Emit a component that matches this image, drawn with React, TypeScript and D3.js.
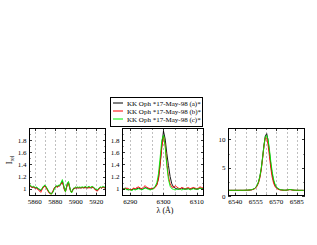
import { useEffect } from "react";
import * as d3 from "d3";

// Na D region
const NAD_WAVE = [
  5855, 5856, 5857, 5858, 5859, 5860, 5861, 5862, 5863, 5864, 5865, 5866, 5867, 5868, 5869,
  5870, 5871, 5872, 5873, 5874, 5875, 5876, 5877, 5878, 5879, 5880, 5881, 5882, 5883, 5884,
  5885, 5886, 5887, 5888, 5889, 5890, 5891, 5892, 5893, 5894, 5895, 5896, 5897, 5898, 5899,
  5900, 5901, 5902, 5903, 5904, 5905, 5906, 5907, 5908, 5909, 5910, 5911, 5912, 5913, 5914,
  5915, 5916, 5917, 5918, 5919, 5920, 5921, 5922, 5923, 5924, 5925, 5926, 5927, 5928, 5929,
];
const NAD_A = [
  1.06, 1.04, 1.03, 1.02, 1.03, 1.02, 1.01, 1.02, 1.0, 0.99, 0.98, 0.97, 0.99, 1.02, 1.04,
  1.05, 1.03, 1.0, 0.97, 0.94, 0.93, 0.92, 0.93, 0.96, 1.0, 1.03, 1.04, 1.03, 1.05, 1.04,
  1.06, 1.09, 1.12, 1.06, 0.99, 0.96, 1.02, 1.09, 1.1, 1.03, 0.97, 0.95, 0.98, 1.01, 1.0,
  1.02, 1.01, 1.02, 1.01, 1.02, 1.01, 1.02, 1.02, 1.01, 1.03, 1.02, 1.01, 1.02, 1.03, 1.02,
  1.01, 1.02, 1.03, 1.01, 0.99, 0.98, 0.97, 0.99, 1.01, 1.02, 1.01, 1.02, 1.03, 1.02, 1.02,
];
const NAD_B = [
  1.05, 1.04, 1.02, 1.03, 1.02, 1.01, 1.02, 1.0, 0.99, 0.97, 0.96, 0.94, 0.98, 1.01, 1.03,
  1.04, 1.02, 0.99, 0.96, 0.93, 0.92, 0.91, 0.93, 0.97, 1.01, 1.02, 1.04, 1.02, 1.04, 1.05,
  1.07, 1.08, 1.1, 1.05, 0.98, 0.95, 1.01, 1.07, 1.09, 1.02, 0.96, 0.94, 0.97, 1.0, 1.01,
  1.01, 1.02, 1.01, 1.02, 1.01, 1.02, 1.01, 1.02, 1.02, 1.01, 1.02, 1.02, 1.01, 1.02, 1.01,
  1.03, 1.02, 1.02, 1.0, 0.98, 0.97, 0.96, 0.98, 1.0, 1.02, 1.01, 1.02, 1.02, 1.01, 1.02,
];
const NAD_C = [
  1.08, 1.05, 1.04, 1.03, 1.04, 1.03, 1.02, 1.03, 1.01, 1.0, 0.99, 0.98, 1.0, 1.03, 1.05,
  1.06, 1.04, 1.01, 0.98, 0.95, 0.93, 0.91, 0.92, 0.95, 0.99, 1.02, 1.05, 1.04, 1.06, 1.05,
  1.08, 1.11, 1.15, 1.08, 1.0, 0.95, 1.03, 1.1, 1.12, 1.04, 0.96, 0.93, 0.97, 1.0, 1.02,
  1.03, 1.02, 1.03, 1.02, 1.03, 1.02, 1.03, 1.03, 1.02, 1.04, 1.03, 1.02, 1.03, 1.04, 1.02,
  1.03, 1.04, 1.03, 1.01, 1.0, 0.99, 0.98, 1.0, 1.02, 1.03, 1.02, 1.04, 1.03, 1.03, 1.04,
];

// [OI] 6300
const OI_WAVE = [
  6287, 6287.5, 6288, 6288.5, 6289, 6289.5, 6290, 6290.5, 6291, 6291.5, 6292, 6292.5, 6293,
  6293.5, 6294, 6294.5, 6295, 6295.5, 6296, 6296.5, 6297, 6297.5, 6298, 6298.5, 6299, 6299.5,
  6300, 6300.5, 6301, 6301.5, 6302, 6302.5, 6303, 6303.5, 6304, 6304.5, 6305, 6305.5, 6306,
  6306.5, 6307, 6307.5, 6308, 6308.5, 6309, 6309.5, 6310, 6310.5, 6311, 6311.5, 6312, 6312.5,
  6313,
];
const OI_A = [
  1.0, 0.99, 1.0, 1.01, 0.99, 0.98, 0.99, 0.98, 1.0, 0.99, 1.0, 1.01, 1.0,
  0.99, 1.0, 1.02, 1.01, 1.0, 0.99, 1.0, 1.01, 1.03, 1.07, 1.18, 1.42, 1.72,
  1.95, 1.82, 1.58, 1.38, 1.2, 1.08, 1.03, 1.01, 1.0, 0.99, 1.0, 1.01, 1.0,
  0.99, 1.0, 1.0, 0.99, 1.0, 1.01, 1.0, 0.99, 1.0, 1.01, 1.0, 1.0, 0.99,
  1.0,
];
const OI_B = [
  1.01, 1.0, 0.99, 1.0, 1.01, 1.0, 0.98, 0.99, 1.01, 1.0, 1.02, 1.03, 1.01,
  1.0, 1.03, 1.05, 1.02, 1.01, 1.0, 1.01, 1.0, 1.02, 1.06, 1.16, 1.4, 1.68,
  1.86, 1.72, 1.42, 1.2, 1.08, 1.03, 1.02, 1.05, 1.03, 1.01, 1.0, 1.02, 1.01,
  1.0, 1.01, 1.02, 1.0, 1.01, 1.02, 1.01, 1.0, 1.01, 1.03, 1.02, 1.01, 1.0,
  1.01,
];
const OI_C = [
  1.0, 0.98, 0.99, 1.0, 0.98, 0.99, 0.98, 0.97, 0.99, 0.98, 0.99, 1.0, 0.99,
  0.98, 1.0, 1.01, 1.0, 0.99, 0.98, 0.99, 1.0, 1.04, 1.1, 1.25, 1.52, 1.8,
  1.88, 1.7, 1.38, 1.15, 1.04, 1.0, 0.99, 0.98, 0.99, 1.0, 0.99, 0.98, 0.99,
  1.0, 0.99, 1.0, 0.98, 0.99, 1.0, 0.99, 1.0, 0.99, 1.01, 1.0, 0.99, 0.98,
  0.99,
];

// H alpha
const HA_WAVE = [
  6535, 6536, 6537, 6538, 6539, 6540, 6541, 6542, 6543, 6544, 6545, 6546, 6547, 6548,
  6549, 6550, 6551, 6552, 6553, 6554, 6555, 6556, 6557, 6558, 6559, 6560, 6561, 6562,
  6563, 6564, 6565, 6566, 6567, 6568, 6569, 6570, 6571, 6572, 6573, 6574, 6575, 6576,
  6577, 6578, 6579, 6580, 6581, 6582, 6583, 6584, 6585, 6586, 6587, 6588, 6589, 6590,
];
const HA_A = [
  1.0, 1.0, 1.0, 1.0, 1.0, 1.01, 1.0, 1.0, 1.0, 1.01, 1.0, 1.0, 1.01, 1.02,
  1.02, 1.04, 1.06, 1.1, 1.18, 1.3, 1.5, 1.85, 2.45, 3.4, 4.8, 6.8, 9.0, 10.6,
  11.0, 9.8, 7.8, 5.6, 3.9, 2.7, 1.95, 1.55, 1.32, 1.18, 1.1, 1.06, 1.03, 1.02,
  1.02, 1.05, 1.1, 1.15, 1.1, 1.05, 1.02, 1.01, 1.0, 1.0, 1.0, 1.0, 1.0, 1.0,
];
const HA_B = [
  1.0, 1.0, 1.0, 1.0, 1.0, 1.0, 1.0, 1.0, 1.01, 1.0, 1.0, 1.01, 1.01, 1.02,
  1.03, 1.04, 1.06, 1.09, 1.15, 1.25, 1.42, 1.75, 2.3, 3.2, 4.6, 6.6, 8.8, 10.3,
  10.2, 9.0, 7.0, 4.9, 3.3, 2.3, 1.7, 1.4, 1.22, 1.12, 1.06, 1.04, 1.02, 1.01,
  1.02, 1.04, 1.08, 1.12, 1.08, 1.04, 1.02, 1.01, 1.0, 1.0, 1.0, 1.0, 1.0, 1.0,
];
const HA_C = [
  1.0, 1.0, 1.0, 1.0, 1.0, 1.0, 1.01, 1.0, 1.0, 1.01, 1.01, 1.01, 1.02, 1.03,
  1.04, 1.06, 1.08, 1.13, 1.2, 1.32, 1.55, 1.9, 2.5, 3.45, 4.85, 6.8, 8.9, 10.5,
  10.7, 10.0, 8.2, 6.1, 4.3, 3.0, 2.15, 1.65, 1.38, 1.22, 1.13, 1.08, 1.05, 1.03,
  1.03, 1.06, 1.1, 1.16, 1.12, 1.06, 1.03, 1.02, 1.01, 1.01, 1.0, 1.0, 1.0, 1.0,
];

const SERIES_NAMES = [
  "KK Oph *17-May-98 (a)*",
  "KK Oph *17-May-98 (b)*",
  "KK Oph *17-May-98 (c)*",
];
const SERIES_COLORS = ["#000000", "#ff0000", "#00ee00"];

const NAD_XTICKS = [5860, 5880, 5900, 5920];
const OI_XTICKS = [6290, 6300, 6310];
const HA_XTICKS = [6540, 6555, 6570, 6585];
const LOW_YTICKS = [1, 1.2, 1.4, 1.6, 1.8];
const HA_YTICKS = [0, 5, 10];

const FONT = "'Liberation Serif', 'DejaVu Serif', serif";

type Panel = {
  wave: number[];
  series: number[][];
  xDomain: [number, number];
  yDomain: [number, number];
  xTicks: number[];
  xMinor: number; // minor step
  yTicks: number[];
  yMinor: number;
  left: number;
  right: number;
};

const TOP = 128;
const BOTTOM = 196;

const panels: Panel[] = [
  {
    wave: NAD_WAVE,
    series: [NAD_A, NAD_B, NAD_C],
    xDomain: [5854.5, 5929.5],
    yDomain: [0.88, 2.0],
    xTicks: NAD_XTICKS,
    xMinor: 10,
    yTicks: LOW_YTICKS,
    yMinor: 0.1,
    left: 29,
    right: 106,
  },
  {
    wave: OI_WAVE,
    series: [OI_A, OI_B, OI_C],
    xDomain: [6287.5, 6312.2],
    yDomain: [0.88, 2.0],
    xTicks: OI_XTICKS,
    xMinor: 10 / 3,
    yTicks: LOW_YTICKS,
    yMinor: 0.1,
    left: 122,
    right: 204,
  },
  {
    wave: HA_WAVE,
    series: [HA_A, HA_B, HA_C],
    xDomain: [6534.7, 6591],
    yDomain: [0, 12],
    xTicks: HA_XTICKS,
    xMinor: 7.5,
    yTicks: HA_YTICKS,
    yMinor: 2.5,
    left: 228,
    right: 305,
  },
];

function SpecPanel({ p, id }: { p: Panel; id: number }) {
  const x = d3.scaleLinear().domain(p.xDomain).range([p.left, p.right]);
  const y = d3.scaleLinear().domain(p.yDomain).range([BOTTOM, TOP]);
  const line = d3
    .line<[number, number]>()
    .x((d) => x(d[0]))
    .y((d) => y(d[1]));

  const t0 = p.xTicks[0];
  const xMinorTicks: number[] = [];
  for (let v = t0 - p.xMinor * 10; v <= p.xDomain[1] + 1e-6; v += p.xMinor) {
    if (v >= p.xDomain[0] - 1e-6) xMinorTicks.push(+v.toFixed(4));
  }
  const yMinorTicks: number[] = [];
  for (let v = p.yTicks[0] - p.yMinor * 20; v <= p.yDomain[1] + 1e-6; v += p.yMinor) {
    if (v >= p.yDomain[0] - 1e-6) yMinorTicks.push(+v.toFixed(4));
  }
  const isMajorX = (v: number) => p.xTicks.some((t) => Math.abs(t - v) < 1e-3);
  const isMajorY = (v: number) => p.yTicks.some((t) => Math.abs(t - v) < 1e-3);

  return (
    <g>
      <defs>
        <clipPath id={`clip${id}`}>
          <rect x={p.left} y={TOP} width={p.right - p.left} height={BOTTOM - TOP} />
        </clipPath>
      </defs>
      {xMinorTicks.map((v) => (
        <line
          key={"g" + v}
          x1={Math.round(x(v)) + 0.5}
          x2={Math.round(x(v)) + 0.5}
          y1={TOP}
          y2={BOTTOM}
          stroke="#b0b0b0"
          strokeWidth={0.8}
          strokeDasharray="2,2"
        />
      ))}
      <g clipPath={`url(#clip${id})`}>
        {p.series.map((s, i) => (
          <path
            key={i}
            d={line(p.wave.map((w, k) => [w, s[k]] as [number, number])) || ""}
            fill="none"
            stroke={SERIES_COLORS[i]}
            strokeWidth={0.9}
          />
        ))}
      </g>
      {xMinorTicks.map((v) => {
        const len = isMajorX(v) ? 3 : 1.5;
        const xx = Math.round(x(v)) + 0.5;
        return (
          <g key={"xt" + v} stroke="#000" strokeWidth={0.8}>
            <line x1={xx} x2={xx} y1={BOTTOM} y2={BOTTOM - len} />
            <line x1={xx} x2={xx} y1={TOP} y2={TOP + len} />
          </g>
        );
      })}
      {yMinorTicks.map((v) => {
        const len = isMajorY(v) ? 3 : 1.5;
        const yy = Math.round(y(v)) + 0.5;
        return (
          <g key={"yt" + v} stroke="#000" strokeWidth={0.8}>
            <line x1={p.left} x2={p.left + len} y1={yy} y2={yy} />
            <line x1={p.right} x2={p.right - len} y1={yy} y2={yy} />
          </g>
        );
      })}
      <rect
        x={p.left + 0.5}
        y={TOP + 0.5}
        width={p.right - p.left - 1}
        height={BOTTOM - TOP - 1}
        fill="none"
        stroke="#000"
        strokeWidth={1}
      />
      {p.xTicks.map((v) => (
        <text
          key={"xl" + v}
          x={x(v)}
          y={BOTTOM + 8}
          textAnchor="middle"
          fontFamily={FONT}
          fontSize={7}
          fill="#000"
        >
          {v}
        </text>
      ))}
      {p.yTicks.map((v) => (
        <text
          key={"yl" + v}
          x={p.left - 2.5}
          y={y(v) + 2.5}
          textAnchor="end"
          fontFamily={FONT}
          fontSize={7}
          fill="#000"
        >
          {d3.format("~g")(v)}
        </text>
      ))}
    </g>
  );
}

export default function App() {
  useEffect(() => {
    document.body.style.margin = "0";
  }, []);

  const legendX = 110;
  const legendY = 97;

  return (
    <svg width={317} height={245} style={{ display: "block", background: "#fff" }}>
      <rect width={317} height={245} fill="#fff" />
      {panels.map((p, i) => (
        <SpecPanel key={i} p={p} id={i} />
      ))}
      {/* legend */}
      <rect
        x={legendX + 0.5}
        y={legendY + 0.5}
        width={92}
        height={29}
        fill="#fff"
        stroke="#000"
        strokeWidth={1}
      />
      {SERIES_NAMES.map((name, i) => (
        <g key={name}>
          <line
            x1={legendX + 3}
            x2={legendX + 13}
            y1={legendY + 6 + i * 8}
            y2={legendY + 6 + i * 8}
            stroke={SERIES_COLORS[i]}
            strokeWidth={1}
          />
          <text
            x={legendX + 17}
            y={legendY + 8.5 + i * 8}
            fontFamily={FONT}
            fontSize={7}
            fill="#000"
          >
            {name}
          </text>
        </g>
      ))}
      {/* axis labels */}
      <text
        transform={`translate(12,160) rotate(-90)`}
        textAnchor="middle"
        fontFamily={FONT}
        fontSize={8}
        fill="#000"
      >
        I<tspan fontSize={5.5} dy={2}>rel</tspan>
      </text>
      <text
        x={165}
        y={213}
        textAnchor="middle"
        fontFamily={FONT}
        fontSize={8}
        fill="#000"
      >
        λ (Å)
      </text>
    </svg>
  );
}
